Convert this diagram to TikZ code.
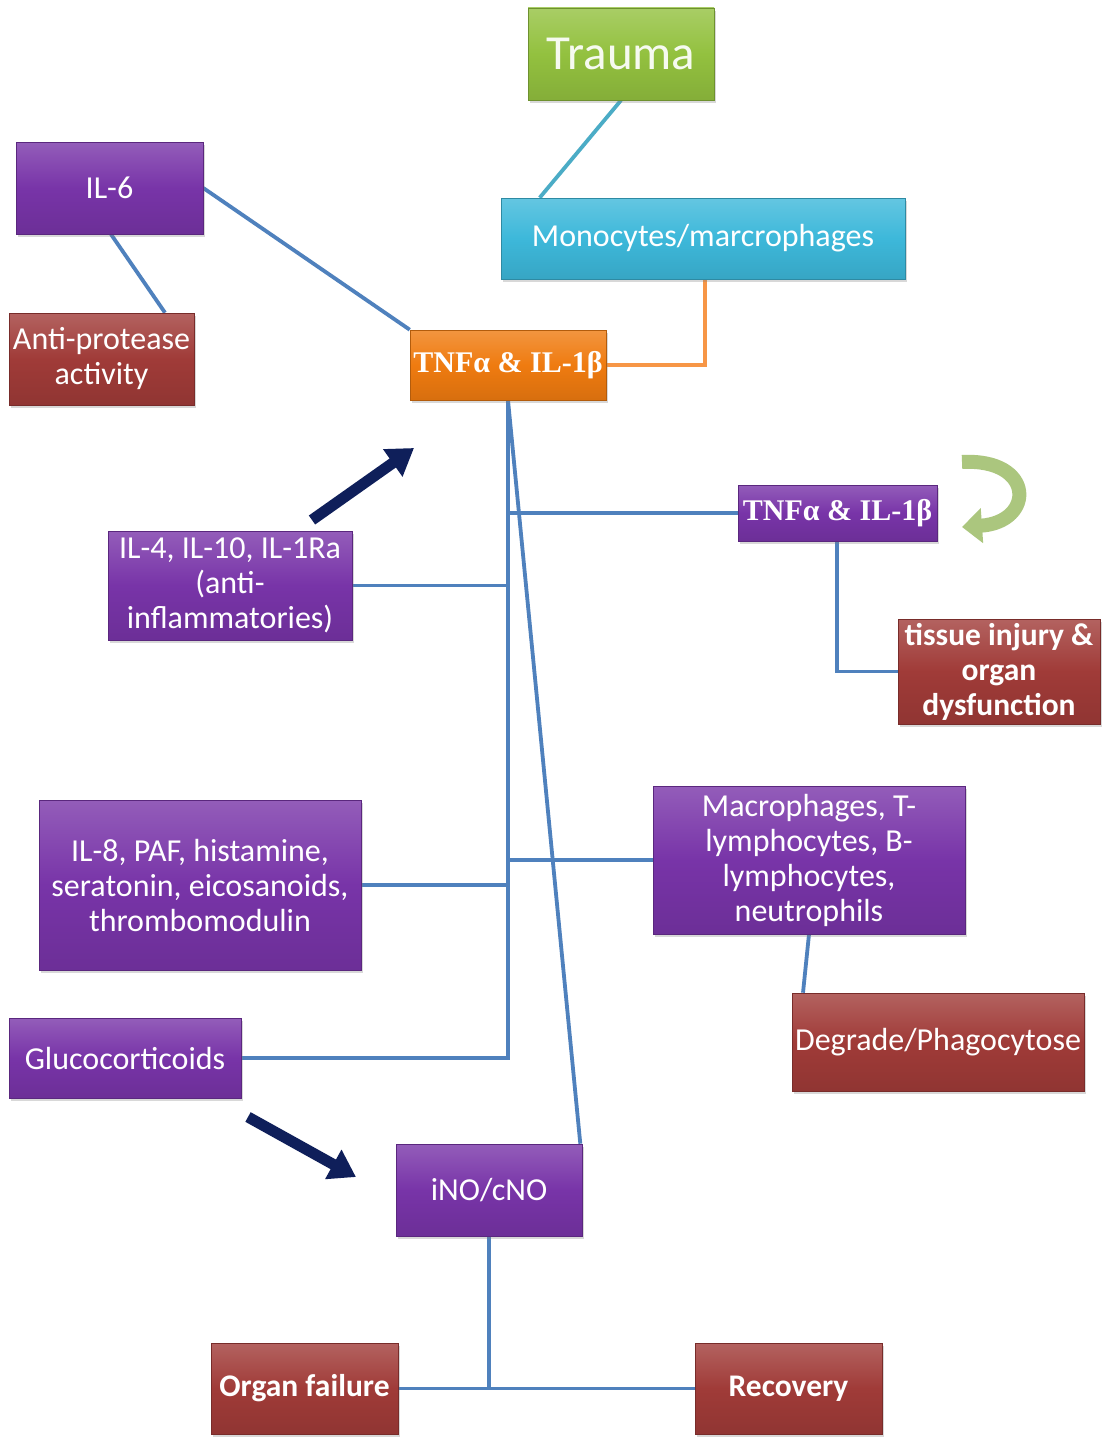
\documentclass[tikz,border=0pt]{standalone}
\usepackage{fontspec}
\setmainfont{Carlito}
\newfontfamily\serifb{Liberation Serif}
\usetikzlibrary{shadows,arrows.meta,backgrounds}
\definecolor{cgreen}{HTML}{93C13F}
\definecolor{ccyan}{HTML}{3DB8DA}
\definecolor{corange}{HTML}{EF7B10}
\definecolor{cpurple}{HTML}{7834A8}
\definecolor{cred}{HTML}{A03B38}
\definecolor{lblue}{HTML}{4F81BD}
\definecolor{lteal}{HTML}{4BACC6}
\definecolor{lorange}{HTML}{F79646}
\definecolor{navy}{HTML}{0F1F5A}
\definecolor{lgreen}{HTML}{ABC67E}
\tikzset{
  box/.style={draw=#1!75!black, line width=0.6pt,
    top color=#1!80!white, bottom color=#1!90!black, middle color=#1,
    drop shadow={shadow xshift=2pt, shadow yshift=-3pt, opacity=0.3},
    text=white, align=center, inner sep=1pt,
    font=\fontsize{32}{35}\selectfont},
  boldtext/.style={font=\bfseries\fontsize{31.5}{35}\selectfont},
  seriftext/.style={font=\serifb\bfseries\fontsize{30}{34}\selectfont},
  conn/.style={draw=lblue, line width=3.8pt},
  bigarrow/.style={draw=navy, line width=11pt, -{Triangle[width=32pt,length=26pt]}},
}
\begin{document}
\begin{tikzpicture}[x=1pt,y=-1pt]
\useasboundingbox (0,0) rectangle (1104,1437);

\coordinate (a1s) at (312,520);
\coordinate (a1e) at (414,448);
\coordinate (a2s) at (248,1117);
\coordinate (a2e) at (356,1177);
\coordinate (c1) at (962,462);
\coordinate (c2) at (962,527);

\node[box=cgreen, minimum width=186pt, minimum height=92pt, text=white!92!cgreen, font=\fontsize{49}{56}\selectfont] (trauma) at (621,54) {Trauma};
\node[box=ccyan, minimum width=404pt, minimum height=81pt] (mono) at (703,238.5) {Monocytes/marcrophages};
\node[box=corange, minimum width=196pt, minimum height=70pt, seriftext] (tnf) at (508,365) {TNFα \& IL-1β};
\node[box=cpurple, minimum width=187pt, minimum height=92pt] (il6) at (109.5,188) {IL-6};
\node[box=cred, minimum width=185pt, minimum height=92pt] (anti) at (101.5,359) {Anti-protease\\activity};
\node[box=cpurple, minimum width=199pt, minimum height=56pt, seriftext] (tnf2) at (837.5,513) {TNFα \& IL-1β};
\node[box=cpurple, minimum width=244pt, minimum height=109pt] (il4) at (230,585.5) {IL-4, IL-10, IL-1Ra\\(anti-\\inflammatories)};
\node[box=cred, minimum width=202pt, minimum height=105pt, boldtext] (tissue) at (999,671.5) {tissue injury \&\\organ\\dysfunction};
\node[box=cpurple, minimum width=322pt, minimum height=170pt] (il8) at (200,885) {IL-8, PAF, histamine,\\seratonin, eicosanoids,\\thrombomodulin};
\node[box=cpurple, minimum width=312pt, minimum height=148pt] (macro) at (809,860) {Macrophages, T-\\lymphocytes, B-\\lymphocytes,\\neutrophils};
\node[box=cpurple, minimum width=232pt, minimum height=80pt] (gluco) at (125,1058) {Glucocorticoids};
\node[box=cred, minimum width=292pt, minimum height=98pt] (degrade) at (938,1042) {Degrade/Phagocytose};
\node[box=cpurple, minimum width=186pt, minimum height=92pt] (ino) at (489,1190) {iNO/cNO};
\node[box=cred, minimum width=187pt, minimum height=91pt, boldtext] (organ) at (304.5,1388.5) {Organ failure};
\node[box=cred, minimum width=187pt, minimum height=91pt, boldtext] (recov) at (788.5,1388.5) {Recovery};

\begin{pgfonlayer}{background}
\fill[white] (0,0) rectangle (1104,1437);
\draw[draw=lteal, line width=3.8pt] (trauma.south) -- ([xshift=39pt]mono.north west);
\draw[draw=lorange, line width=3.8pt] ([xshift=2pt]mono.south) |- (tnf.east);
\draw[conn] (il6.east) -- (tnf.north west);
\draw[conn] ([xshift=1.5pt]il6.south) -- ([xshift=63.5pt]anti.north);
\draw[conn] (tnf.south) -- (tnf.south |- gluco.east) -- (gluco.east);
\draw[conn] (tnf.south) -- ([xshift=-2pt]ino.north east);
\draw[conn] ([xshift=2pt]tnf.south |- tnf2.west) -- (tnf2.west);
\draw[conn] (il4.east) -- (il4.east -| tnf.south);
\draw[conn] (il8.east) -- (il8.east -| tnf.south);
\draw[conn] ([xshift=2pt]macro.west -| tnf.south) -- (macro.west);
\draw[conn] ([xshift=-0.5pt]tnf2.south) |- (tissue.west);
\draw[conn] (macro.south) -- ([xshift=-135pt]degrade.north);
\draw[conn] (ino.south) -- (ino.south |- organ.east);
\draw[conn] (organ.east) -- (recov.west);
\end{pgfonlayer}

\draw[bigarrow] (a1s) -- (a1e);
\draw[bigarrow] (a2s) -- (a2e);
\draw[draw=lgreen, line width=14pt, -{Triangle[width=34pt,length=20pt]}] (c1) .. controls (1035,458) and (1035,522) .. (c2);
\end{tikzpicture}
\end{document}
